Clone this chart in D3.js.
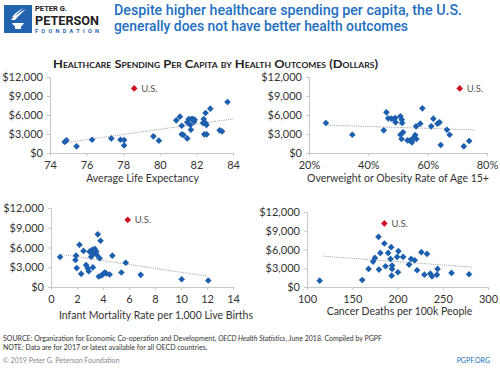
<!DOCTYPE html>
<html><head><meta charset="utf-8">
<script src="https://cdn.jsdelivr.net/npm/d3@7"></script>
<style>body{margin:0;background:#fff}svg{display:block}</style>
</head><body>
<script>
// ---- Data ----
const lifeX = [74.8,74.9,75.45,76.3,77.35,77.85,78.05,78.05,79.65,79.95,80.9,81.1,81.2,81.2,81.3,81.5,81.5,81.58,81.67,81.7,81.73,81.8,81.87,81.9,82.36,82.4,82.43,82.5,82.55,82.56,82.5,82.76,83.27,83.4,83.7];
const lifeY = [1740,2000,1050,2100,2300,2100,2050,1200,2630,1950,5160,5740,4300,2950,2840,2300,4840,5370,4420,3680,5370,5370,4950,5260,4740,5370,2950,6320,4420,2950,4740,7000,3580,3420,8050];
const obeseX = [25.7,34.6,45.2,46.1,46.7,47.75,48.5,49.2,49.1,50.8,51.3,51.4,50.8,51.2,51.7,53.2,54.0,54.6,54.7,55.1,55.8,56.1,56.2,57.5,58.2,61.2,61.9,63.3,64.0,64.4,66.5,67.4,72.2,74.0];
const obeseY = [4740,2890,3580,6420,5470,5420,5370,4840,5530,5790,5260,4740,2890,2210,3260,2000,1950,2100,1680,2310,2840,4210,2210,4630,7050,4210,5420,4630,4840,1260,3680,2890,1050,1890];
const infantX = [0.7,1.93,1.88,1.98,2.19,2.32,2.5,2.7,2.83,2.9,2.96,3.09,3.17,3.22,3.27,3.37,3.48,3.53,3.68,3.74,3.81,3.6,3.87,3.99,4.12,4.25,4.51,4.72,5.41,5.75,6.9,10.05,12.1];
const infantY = [4560,4760,4100,2870,6400,2000,5480,3330,2830,2410,5380,4610,5640,2980,5180,5790,5380,4870,1600,4360,7020,8000,1750,1900,2210,2060,1900,4760,2210,3690,1850,1180,980];
const cancerX = [114,161,168,173,175,179.5,179,181,185.5,186.8,189.7,192.3,193,193.5,194,194,199.6,201,200.5,206.2,212.8,215,219,221.6,226.4,229.7,232.6,236.3,238.1,243.6,244.3,259.7,279.1];
const cancerY = [1020,1120,2890,4070,4660,2790,8030,5460,6960,3320,5460,4500,6370,1820,3430,2890,4820,5730,2360,4820,3590,4500,4280,2680,5570,1980,5300,2140,1710,1980,2890,2250,2040];
const usLife = [78.6, 10200], usObese = [70.8, 10200], usInfant = [5.9, 10200], usCancer = [185.5, 10180];
const trendLife = [[74.8,1620],[84,5370]];
const trendObese = [[25.5,4400],[76,3650]];
const trendInfant = [[0.8,4950],[12,1650]];
const trendCancer = [[118,4930],[283,3170]];
const yTicks = [0,3000,6000,9000,12000];
const lifeTicks = [74,76,78,80,82,84];
const obeseTicks = [0.2,0.4,0.6,0.8];
const infantTicks = [0,2,4,6,8,10,12,14];
const cancerTicks = [100,150,200,250,300];
const axisTitles = ["Average Life Expectancy","Overweight or Obesity Rate of Age 15+","Infant Mortality Rate per 1,000 Live Births","Cancer Deaths per 100k People"];
const title = ["Despite higher healthcare spending per capita, the U.S.","generally does not have better health outcomes"];
const subtitle = "Healthcare Spending Per Capita by Health Outcomes (Dollars)";
const footer = ["SOURCE: Organization for Economic Co-operation and Development, ","OECD Health Statistics",", June 2018. Compiled by PGPF","NOTE: Data are for 2017 or latest available for all OECD countries.","© 2019 Peter G. Peterson Foundation","PGPF.ORG"];

const W=500,H=368;
const BLUE="#1c5fae", RED="#cc1020", TITLE="#2470c2";
const svg=d3.select("body").append("svg").attr("width",W).attr("height",H);
const FONT="Lato, 'Open Sans', sans-serif";

// ---- Header ----
const logo=svg.append("g");
logo.append("rect").attr("x",4).attr("y",5).attr("width",28).attr("height",28).attr("fill","#2263b0");
logo.append("path").attr("d","M12,23 h12 l-2,3 h-8 z M15,26 h6 v3 h-6 z").attr("fill","#fff");
logo.append("path").attr("d","M11,20 C14,16 20,12 26,9 C22,13 18,16 15,20 z M12,17 C15,13 19,10 24,8 C20,11 17,13 14,17 z").attr("fill","#fff");
logo.append("text").attr("x",35).attr("y",10.5).text("PETER G.").attr("font-family","Roboto, Arial, sans-serif").attr("font-weight",700).attr("font-size",7.5).attr("fill","#222");
logo.append("text").attr("x",35).attr("y",24.5).text("PETERSON").attr("font-family","Roboto, Arial, sans-serif").attr("font-weight",700).attr("font-size",12.5).attr("fill","#222").attr("textLength",64).attr("lengthAdjust","spacingAndGlyphs");
logo.append("text").attr("x",35).attr("y",32.5).text("FOUNDATION").attr("font-family","Roboto, Arial, sans-serif").attr("font-weight",700).attr("font-size",5.5).attr("fill","#2263b0").attr("textLength",64);

svg.selectAll(".ttl").data(title).join("text").attr("class","ttl")
  .attr("x",114).attr("y",(d,i)=>15+i*16).text(d=>d)
  .attr("font-family","Roboto, Arial, sans-serif").attr("font-weight",500).attr("font-size",14).attr("fill",TITLE)
  .attr("textLength",(d,i)=>i===0?348:294).attr("lengthAdjust","spacingAndGlyphs");

svg.append("text").attr("x",53).attr("y",67.5).text(subtitle)
  .attr("font-family",FONT).attr("font-weight",700).attr("font-size",10.5).attr("fill","#222")
  .style("font-variant","small-caps").attr("textLength",325).attr("lengthAdjust","spacingAndGlyphs");

// ---- Panels ----
function panel(o){
  const x=d3.scaleLinear().domain(o.xDomain).range([o.x0,o.x1]);
  const y=d3.scaleLinear().domain([0,12000]).range([o.y0,o.y1]);
  const g=svg.append("g");
  const ya=g.append("g").attr("transform",`translate(${o.x0},0)`)
    .call(d3.axisLeft(y).tickValues(yTicks).tickSize(3).tickPadding(4).tickFormat(d=>"$"+d3.format(",")(d)));
  const xa=g.append("g").attr("transform",`translate(0,${o.y0})`)
    .call(d3.axisBottom(x).tickValues(o.ticks).tickSize(3).tickPadding(5).tickFormat(o.fmt));
  [ya,xa].forEach(a=>{a.selectAll("path,line").attr("stroke","#c8c8c8");
    a.selectAll("text").attr("font-family",FONT).attr("font-size",11).attr("fill","#333");});
  g.append("text").attr("x",(o.x0+o.x1)/2+o.tdx).attr("y",o.ty).attr("text-anchor","middle").text(o.title)
    .attr("font-family",FONT).attr("font-size",10.5).attr("fill","#333");
  g.append("line").attr("x1",x(o.trend[0][0])).attr("y1",y(o.trend[0][1])).attr("x2",x(o.trend[1][0])).attr("y2",y(o.trend[1][1]))
    .attr("stroke","#9a9a9a").attr("stroke-width",1).attr("stroke-dasharray","1,1.2");
  const sym=d3.symbol().type(d3.symbolSquare).size(22);
  g.selectAll(".pt").data(o.xs.map((v,i)=>[v,o.ys[i]])).join("path").attr("class","pt")
    .attr("d",sym).attr("transform",d=>`translate(${x(d[0])},${y(d[1])}) rotate(45)`).attr("fill",BLUE);
  g.append("path").attr("d",sym).attr("transform",`translate(${x(o.us[0])},${y(o.us[1])}) rotate(45)`).attr("fill",RED);
  g.append("text").attr("x",x(o.us[0])+7).attr("y",y(o.us[1])+3.5).text("U.S.")
    .attr("font-family",FONT).attr("font-size",9.5).attr("fill","#555");
}
panel({xs:lifeX,ys:lifeY,us:usLife,trend:trendLife,xDomain:[74,84],ticks:lifeTicks,fmt:d3.format("d"),
  x0:50,x1:233,y0:153,y1:77,title:axisTitles[0],ty:182,tdx:1});
panel({xs:obeseX.map(v=>v/100),ys:obeseY,us:[usObese[0]/100,usObese[1]],trend:trendObese.map(d=>[d[0]/100,d[1]]),xDomain:[0.2,0.8],ticks:obeseTicks,fmt:d3.format(".0%"),
  x0:309,x1:487,y0:153,y1:77,title:axisTitles[1],ty:182,tdx:0});
panel({xs:infantX,ys:infantY,us:usInfant,trend:trendInfant,xDomain:[0,14],ticks:infantTicks,fmt:d3.format("d"),
  x0:51,x1:233,y0:287,y1:208,title:axisTitles[2],ty:319,tdx:14});
panel({xs:cancerX,ys:cancerY,us:usCancer,trend:trendCancer,xDomain:[100,300],ticks:cancerTicks,fmt:d3.format("d"),
  x0:307,x1:488,y0:287,y1:212,title:axisTitles[3],ty:315,tdx:2});

// ---- Footer ----
const f1=svg.append("text").attr("x",3).attr("y",341).attr("font-family",FONT).attr("font-size",7).attr("fill","#333");
f1.append("tspan").text(footer[0]);
f1.append("tspan").text(footer[1]).attr("font-style","italic");
f1.append("tspan").text(footer[2]);
svg.append("text").attr("x",3).attr("y",349.5).text(footer[3]).attr("font-family",FONT).attr("font-size",7).attr("fill","#333");
svg.append("text").attr("x",3).attr("y",363).text(footer[4]).attr("font-family",FONT).attr("font-size",7).attr("fill","#888");
svg.append("text").attr("x",490).attr("y",363).attr("text-anchor","end").text(footer[5]).attr("font-family",FONT).attr("font-size",7).attr("fill","#2470c2");
</script>
</body></html>
